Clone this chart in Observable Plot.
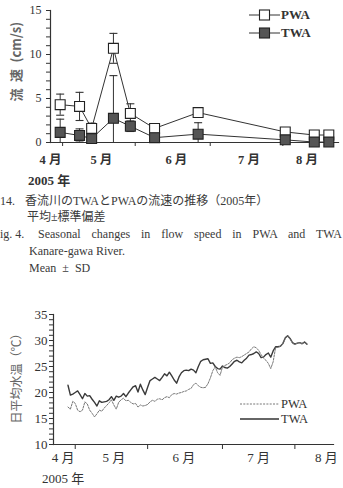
<!DOCTYPE html>
<html>
<head>
<meta charset="utf-8">
<script src="https://cdn.jsdelivr.net/npm/d3@7"></script>
<script src="https://cdn.jsdelivr.net/npm/@observablehq/plot@0.6"></script>
<style>
  html, body { margin: 0; padding: 0; background: #fff; }
  #page {
    position: relative; width: 343px; height: 488px; overflow: hidden;
    font-family: "Liberation Serif", "Noto Sans CJK JP", serif; color: #333;
  }
  .abs { position: absolute; white-space: nowrap; }
  .chart { position: absolute; left: 0; }
  .cap { height: 17px; line-height: 17px; font-size: 12px; color: #3a3a3a; }
  .ytitle {
    position: absolute; transform-origin: center center; white-space: nowrap;
    font-family: "Noto Sans CJK JP", sans-serif; color: #666;
  }
  .legend { position: absolute; display: flex; align-items: center; height: 12px; font-size: 13px; }
  .legend span { line-height: 12px; }
  .legend svg { display: block; }
</style>
</head>
<body>
<div id="page">
  <div id="flow" class="chart" style="top:0"></div>
  <div id="temp" class="chart" style="top:300px"></div>

  <!-- flow chart texts -->
  <div class="ytitle" style="left:-22px; top:55px; width:74px; text-align:center; font-size:13px; font-weight:bold; transform:rotate(-90deg);">流&#x2002;速&#x2002;(cm/s)</div>
  <div class="abs" style="left:28px; top:172px; font-size:13px; font-weight:bold; line-height:17px;">2005 年</div>
  <div class="legend" style="left:249px; top:9px; font-weight:bold;">
    <svg width="31" height="12"><line x1="0" y1="6" x2="31" y2="6" stroke="#333" stroke-width="1"/><rect x="10.5" y="1" width="10" height="10" fill="#fff" stroke="#222" stroke-width="1.1"/></svg>
    <span style="margin-left:1px">PWA</span>
  </div>
  <div class="legend" style="left:249px; top:27px; font-weight:bold;">
    <svg width="31" height="12"><line x1="0" y1="6" x2="31" y2="6" stroke="#333" stroke-width="1"/><rect x="10.5" y="1" width="10" height="10" fill="#555" stroke="#222" stroke-width="1.1"/></svg>
    <span style="margin-left:1px">TWA</span>
  </div>

  <!-- caption -->
  <div class="abs cap" style="left:0; top:193px;">14.</div>
  <div class="abs cap" style="left:25px; top:193px;">香流川のTWAとPWAの流速の推移（2005年）</div>
  <div class="abs cap" style="left:27px; top:209px;">平均±標準偏差</div>
  <div class="abs cap" style="left:0; top:226px;">ig. 4.</div>
  <div class="abs cap" style="left:38px; top:226px; width:304px; text-align:justify; text-align-last:justify;">Seasonal changes in flow speed in PWA and TWA</div>
  <div class="abs cap" style="left:29px; top:243px;">Kanare-gawa River.</div>
  <div class="abs cap" style="left:29px; top:260px;">Mean&nbsp; ±&nbsp; SD</div>

  <!-- temperature chart texts -->
  <div class="ytitle" style="left:-34px; top:367px; width:98px; text-align:center; font-size:12px; transform:rotate(-90deg);">日平均水温（℃）</div>
  <div class="abs" style="left:42px; top:470px; font-size:13px; line-height:17px;">2005 年</div>
  <div class="legend" style="left:240px; top:398px; font-size:12.5px;">
    <svg width="39" height="12"><line x1="0" y1="6" x2="39" y2="6" stroke="#777" stroke-width="1" stroke-dasharray="2,1.3"/></svg>
    <span style="margin-left:2px">PWA</span>
  </div>
  <div class="legend" style="left:240px; top:413px; font-size:12.5px;">
    <svg width="39" height="12"><line x1="0" y1="6" x2="39" y2="6" stroke="#333" stroke-width="1.3"/></svg>
    <span style="margin-left:2px">TWA</span>
  </div>
</div>

<script>
// ---- Flow speed (cm/s) at each survey, mean and standard deviation ----
const surveyDates = ["2005-04-14", "2005-04-22", "2005-04-27", "2005-05-06", "2005-05-13",
                     "2005-05-23", "2005-06-10", "2005-07-16", "2005-07-28", "2005-08-03"];
const pwaMean = [4.3, 4.1, 1.6, 10.7, 3.3, 1.6, 3.4, 1.2, 0.85, 0.85];
const pwaSd   = [1.2, 1.6, 0.6, 1.7, 1.1, 0.5, 0.3, 0.2, 0.15, 0.15];
const twaMean = [1.15, 0.8, 0.45, 2.75, 1.85, 0.55, 0.95, 0.3, 0.05, 0.05];
const twaSd   = [1.5, 0.75, 0.5, 4.85, 0.6, 0.2, 1.3, 0.2, 0.1, 0.1];

// ---- Daily mean water temperature (°C), one value per day from tempStart ----
const tempStart = "2005-04-12";
const pwaTemp = [
  17.2, 16.8, 18.3, 17.9, 16.6, 16.3, 16.6, 18.2, 17.8, 16.6,
  16.0, 15.3, 15.9, 16.6, 16.4, 17.0, 17.5, 18.0, 18.6, 17.6,
  16.8, 18.1, 18.6, 18.9, 18.4, 18.5, 18.1, 17.8, 17.9, 17.2,
  17.6, 17.4, 17.5, 17.7, 18.2, 18.5, 18.3, 18.7, 18.8, 18.6,
  19.0, 19.2, 19.0, 19.6, 19.8, 19.7, 19.9, 20.0, 20.2, 20.3,
  20.6, 20.8, 21.5, 21.8, 21.3, 21.0, 20.9, 21.0, 21.7, 22.8,
  24.2, 24.9, 23.8, 23.3, 24.9, 25.2, 25.4, 25.7, 26.3, 26.6,
  26.8, 26.7, 26.9, 27.2, 27.5, 27.8, 28.4, 28.8, 28.6, 28.1,
  27.3, 26.6, 26.2, 25.6, 24.6, 25.9, 28.6, 28.7, 28.9, 29.3,
  30.4, 30.9, 30.3, 29.5, 29.2, 29.5, 29.6, 29.3, 29.8, 29.2
];
const twaTemp = [
  21.4, 19.5, 19.7, 20.0, 20.3, 19.6, 18.8, 19.8, 19.3, 19.4,
  18.7, 18.1, 17.4, 18.4, 18.1, 18.2, 18.3, 18.6, 19.2, 18.5,
  19.3, 19.1, 19.3, 19.8, 19.2, 19.9, 20.5, 21.1, 21.3, 20.1,
  21.6, 20.5, 19.6, 21.0, 22.3, 22.6, 22.9, 22.6, 22.3, 22.9,
  23.6, 23.2, 23.9, 23.2, 22.4, 21.8, 23.0, 23.8, 24.2, 24.3,
  24.2, 24.5, 24.3, 23.8, 25.0, 26.0, 26.3, 26.4, 26.5, 25.6,
  25.7, 25.0, 24.6, 24.5, 25.1, 24.8, 24.7, 25.0, 25.5, 26.0,
  26.2, 25.9, 25.7, 26.2, 26.6, 27.2, 27.3, 27.5, 27.8, 27.5,
  26.7, 26.8, 27.3, 27.6, 26.8, 28.0, 28.8, 28.8, 28.9, 29.4,
  30.5, 30.9, 30.4, 29.6, 29.3, 29.5, 29.6, 29.4, 29.7, 29.3
];

// ---- Axis ticks and month labels ----
const midMonthTicks = ["2005-04-15", "2005-05-15", "2005-06-15", "2005-07-15"];
const monthLabels = ["4 月", "5 月", "6 月", "7 月", "8 月"];
const flowLabelDates = ["2005-04-10", "2005-05-01", "2005-06-01", "2005-07-01", "2005-07-25"];
const tempLabelDates = ["2005-04-10", "2005-05-01", "2005-05-30", "2005-06-30", "2005-07-28"];
const flowTicks = [0, 5, 10, 15];
const tempTicks = [10, 15, 20, 25, 30, 35];

const parse = d3.utcParse("%Y-%m-%d");
const ink = "#333";
const fontStack = '"Liberation Serif", "Noto Sans CJK JP", serif';

// Short horizontal cap drawn at the ends of the error bars
const capSymbol = {
  draw(ctx, size) {
    const w = Math.sqrt(size / Math.PI);
    ctx.moveTo(-w, 0);
    ctx.lineTo(w, 0);
  }
};

const flowRows = surveyDates.flatMap((d, i) => [
  {date: parse(d), series: "PWA", mean: pwaMean[i], sd: pwaSd[i]},
  {date: parse(d), series: "TWA", mean: twaMean[i], sd: twaSd[i]}
]);

const labelMap = (dates) => new Map(dates.map((d, i) => [+parse(d), monthLabels[i]]));
const flowLabelOf = labelMap(flowLabelDates);
const tempLabelOf = labelMap(tempLabelDates);

const flowChart = Plot.plot({
  width: 343, height: 175,
  marginLeft: 50, marginRight: 5, marginTop: 10, marginBottom: 33,
  style: {fontFamily: fontStack, fontSize: "12px", color: ink, background: "transparent", overflow: "visible"},
  x: {type: "utc", domain: [parse("2005-04-10"), parse("2005-08-07")]},
  y: {domain: [0, 15]},
  marks: [
    Plot.axisY(d3.range(0, 16), {tickSize: 4, tickFormat: () => "", label: null, stroke: ink}),
    Plot.axisY(flowTicks, {tickSize: 0, tickPadding: 9, label: null, fontSize: 12}),
    Plot.axisX(midMonthTicks.map(parse), {tickSize: 4, tickFormat: () => "", label: null, stroke: ink}),
    Plot.axisX(flowLabelDates.map(parse), {tickSize: 0, tickPadding: 13, label: null,
      tickFormat: (d) => flowLabelOf.get(+d), fontWeight: "bold", fontSize: 12.5}),
    Plot.frame({anchor: "left", stroke: ink, strokeWidth: 1.2}),
    Plot.frame({anchor: "bottom", stroke: ink, strokeWidth: 1.2}),
    Plot.line(flowRows, {x: "date", y: "mean", z: "series", stroke: ink, strokeWidth: 1}),
    Plot.ruleX(flowRows, {x: "date", y1: (d) => Math.max(0, d.mean - d.sd), y2: (d) => d.mean + d.sd, stroke: ink, strokeWidth: 1}),
    Plot.dot(flowRows, {x: "date", y: (d) => d.mean + d.sd, symbol: capSymbol, r: 4, stroke: ink, strokeWidth: 1.1}),
    Plot.dot(flowRows.filter((d) => d.mean - d.sd > 0), {x: "date", y: (d) => d.mean - d.sd, symbol: capSymbol, r: 4, stroke: ink, strokeWidth: 1.1}),
    Plot.dot(flowRows, {x: "date", y: "mean", symbol: "square", r: 5.6,
      fill: (d) => d.series === "PWA" ? "#fff" : "#555", stroke: "#222", strokeWidth: 1.1})
  ]
});
document.getElementById("flow").append(flowChart);

const start = parse(tempStart);
const tempRows = pwaTemp.map((v, i) => ({date: d3.utcDay.offset(start, i), pwa: v, twa: twaTemp[i]}));

const tempChart = Plot.plot({
  width: 343, height: 170,
  marginLeft: 53, marginRight: 10, marginTop: 14, marginBottom: 26,
  style: {fontFamily: fontStack, fontSize: "13px", color: ink, background: "transparent", overflow: "visible"},
  x: {type: "utc", domain: [parse("2005-04-06"), parse("2005-07-31")]},
  y: {domain: [10, 35]},
  marks: [
    Plot.axisY(d3.range(10, 36), {tickSize: 4, tickFormat: () => "", label: null, stroke: ink}),
    Plot.axisY(tempTicks, {tickSize: 0, tickPadding: 6, label: null, fontSize: 13}),
    Plot.axisX(midMonthTicks.map(parse), {tickSize: 5, tickFormat: () => "", label: null, stroke: ink}),
    Plot.axisX(tempLabelDates.map(parse), {tickSize: 0, tickPadding: 8, label: null,
      tickFormat: (d) => tempLabelOf.get(+d), fontSize: 13}),
    Plot.frame({anchor: "left", stroke: ink, strokeWidth: 1.2}),
    Plot.frame({anchor: "bottom", stroke: ink, strokeWidth: 1.2}),
    Plot.line(tempRows, {x: "date", y: "twa", stroke: "#3a3a3a", strokeWidth: 1.4}),
    Plot.line(tempRows, {x: "date", y: "pwa", stroke: "#777", strokeWidth: 1, strokeDasharray: "2,1.3"})
  ]
});
document.getElementById("temp").append(tempChart);
</script>
</body>
</html>
